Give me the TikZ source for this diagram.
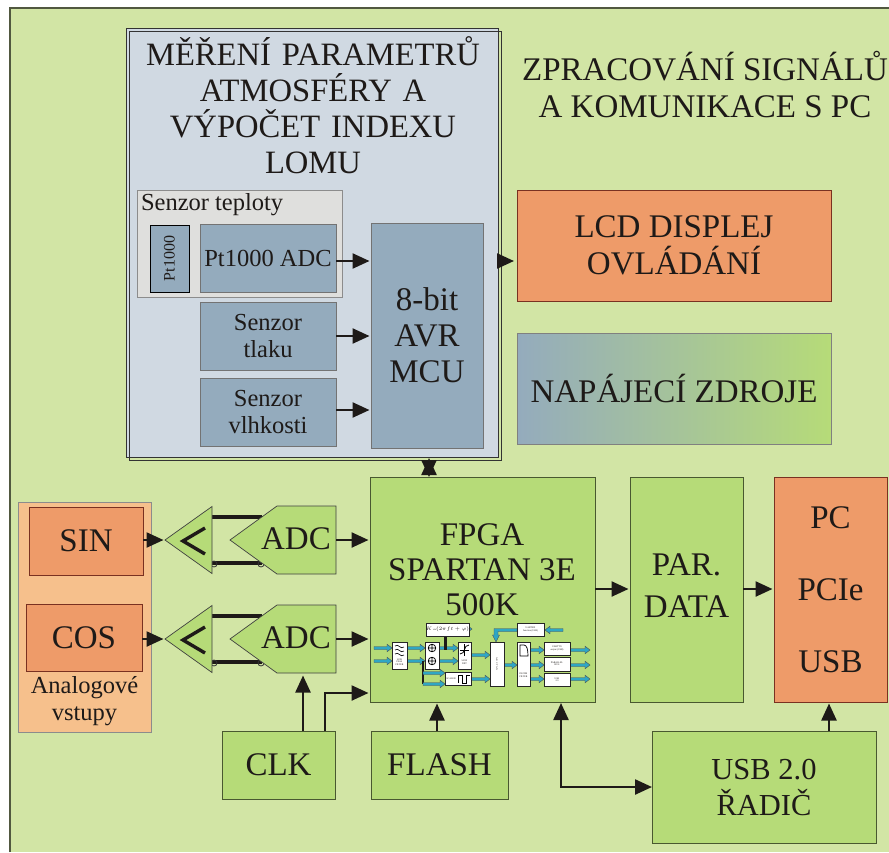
\documentclass[tikz,border=0pt]{standalone}
\usepackage{fontspec}
\setmainfont{Liberation Serif}
\usetikzlibrary{arrows.meta,calc}
\definecolor{bgG}{HTML}{D2E5A5}
\definecolor{blkG}{HTML}{B6DB78}
\definecolor{blkB}{HTML}{94ABBD}
\definecolor{panel}{HTML}{D0D9E2}
\definecolor{grayP}{HTML}{DFDFDD}
\definecolor{orng}{HTML}{EE9B69}
\definecolor{peach}{HTML}{F6C08C}
\definecolor{ink}{HTML}{1E1A18}
\definecolor{teal}{HTML}{2FA6C4}
\newcommand{\fs}[1]{\fontsize{#1}{#1}\selectfont}
\tikzset{
 x=1pt,y=-1pt,
 plain/.style={inner sep=0,outer sep=0,text=ink,align=center,anchor=north west},
 blk/.style={plain,draw=#1,line width=.7pt},
 grn/.style={blk=black!60!blkG,fill=blkG},
 blu/.style={blk=black!55,fill=blkB},
 org/.style={blk=black!25!orng!70!red!60!black,fill=orng},
 conn/.style={draw=ink,line width=2.4pt,shorten >=1.5pt,-{Triangle[length=17pt,width=15pt]}},
 dconn/.style={draw=ink,line width=2.4pt,{Triangle[length=17pt,width=15pt]}-{Triangle[length=17pt,width=15pt]}},
 thick line/.style={draw=ink,line width=3.4pt},
 mini/.style={plain,draw=black!85,fill=white,line width=.8pt,font=\fs{2.4}},
 tiny/.style={plain,anchor=center,font=\fs{2.4}},
}
% teal block arrow from #1 to #2 at height #3
\newcommand{\tA}[3]{\fill[teal,draw=black!70,line width=.4pt] (#1,#3-1.5) -- (#2-5,#3-1.5) -- (#2-5,#3-3.8) -- (#2,#3) -- (#2-5,#3+3.8) -- (#2-5,#3+1.5) -- (#1,#3+1.5) -- cycle;}
\begin{document}
\begin{tikzpicture}
\useasboundingbox (0,0) rectangle (889,852);
\fill[white] (0,0) rectangle (889,852);
\path[fill=bgG] (10,8) rectangle (889,852);
\draw[black!45!bgG!70!black,line width=1.2pt] (10,852) -- (10,8) -- (889,8);
% panel
\path[fill=panel,draw=black!80,line width=.7pt] (126,28) rectangle (498,457);
\draw[black!80,line width=.7pt] (129,31) rectangle (501,460);
\node[plain,anchor=center,font=\fs{32.6},text width=372] (ptitle) at (313,105) {MĚŘENÍ PARAMETRŮ\\[3.4pt]ATMOSFÉRY A\\[3.4pt]VÝPOČET INDEXU\\[3.4pt]LOMU};
\node[plain,anchor=center,font=\fs{33}] (ttitle) at (705,85) {ZPRACOVÁNÍ SIGNÁLŮ\\[4pt]A KOMUNIKACE S PC};
% temperature
\node[blk=black!45,fill=grayP,minimum width=205,minimum height=107] (tbox) at (137,190) {};
\node[plain,font=\fs{24.5}] (tlab) at (141,193) {Senzor teploty};
\node[blk=black,fill=blkB,minimum width=39,minimum height=67] (pt) at (150,225) {};
\node[plain,anchor=center,rotate=90,font=\fs{16}] (ptl) at (169.5,258.5) {Pt1000};
\node[blu,minimum width=136,minimum height=68,font=\fs{24.5}] (adc) at (200,224) {Pt1000 ADC};
\node[blu,minimum width=136,minimum height=68,font=\fs{24.5}] (tlak) at (200,302) {Senzor\\[2.5pt]tlaku};
\node[blu,minimum width=136,minimum height=68,font=\fs{24.5}] (vlh) at (200,378) {Senzor\\[2.5pt]vlhkosti};
\node[blu,minimum width=112,minimum height=225,font=\fs{33}] (mcu) at (371,223) {8-bit\\[3pt]AVR\\[3pt]MCU};
% right
\node[org,minimum width=314,minimum height=111,font=\fs{33}] (lcd) at (517,190) {LCD DISPLEJ\\[4pt]OVLÁDÁNÍ};
\node[plain,draw=black!50,line width=.7pt,left color=blkB,right color=blkG,minimum width=314,minimum height=111,font=\fs{33}] (nap) at (517,333) {NAPÁJECÍ ZDROJE};
\node[grn,minimum width=225,minimum height=225] (fpga) at (370,477) {};
\node[plain,anchor=center,font=\fs{33}] (fpgal) at (482,570) {FPGA\\[2pt]SPARTAN 3E\\[2pt]500K};
\node[grn,minimum width=113,minimum height=225] (par) at (630,477) {};
\node[plain,anchor=center,font=\fs{33}] (parl) at (686.5,586) {PAR.\\[9pt]DATA};
\node[org,minimum width=113,minimum height=225,font=\fs{33}] (pc) at (774,477) {PC\\[39pt]PCIe\\[39pt]USB};
\node[grn,minimum width=224,minimum height=112,font=\fs{30.5}] (usb) at (652,731) {USB 2.0\\[5.5pt]ŘADIČ};
\node[grn,minimum width=137,minimum height=68,font=\fs{33}] (flash) at (371,731) {FLASH};
\node[grn,minimum width=113,minimum height=68,font=\fs{33}] (clk) at (222,731) {CLK};
% analog
\node[blk=black!45,fill=peach,minimum width=133,minimum height=230] (ana) at (18,502) {};
\node[org,minimum width=114,minimum height=68,font=\fs{33}] (sin) at (29,507) {SIN};
\node[org,minimum width=116,minimum height=67,font=\fs{33}] (cos) at (26,604) {COS};
\node[plain,anchor=center,font=\fs{24.5}] (anal) at (84.5,701) {Analogové\\[2pt]vstupy};
% ADC + amplifiers
\foreach \n/\yy in {1/540,2/639}{
 \draw[thick line] (212,\yy-23) -- (262,\yy-23);
 \draw[thick line] (212,\yy+23) -- (262,\yy+23);
 \draw[black!80,line width=.8pt] (214,\yy+24) circle (3) (261,\yy+24) circle (3);
 \path[fill=blkG,draw=black!75,line width=.7pt] (165,\yy) -- (212,\yy-33.5) -- (212,\yy+33.5) -- cycle;
 \coordinate (ampin\n) at (165,\yy);
 \coordinate (adcout\n) at (336,\yy);
 \draw[ink,line width=3.4pt,miter limit=10] (205,\yy-12) -- (183,\yy+1) -- (205,\yy+14);
 \path[fill=blkG,draw=black!75,line width=.7pt] (230,\yy) -- (277,\yy-34) -- (336,\yy-34) -- (336,\yy+34) -- (277,\yy+34) -- cycle;
 \node[plain,anchor=center,font=\fs{33}] (adcl\n) at (296,\yy-1) {ADC};
}
% connectors
\foreach \a/\yy in {adc/261,tlak/336,vlh/410}{\draw[conn] (\a.east |- 0,\yy) -- (mcu.west |- 0,\yy);}
\coordinate (lcds) at (498,261);
\draw[conn,shorten >=3pt] (lcds) -- (lcd.west |- lcds);
\coordinate (mcub) at (429,458);
\draw[dconn] (fpga.north -| mcub) -- (mcub);
\draw[conn] (sin.east |- ampin1) -- (ampin1);
\draw[conn] (cos.east |- ampin2) -- (ampin2);
\draw[conn] (adcout1) -- (fpga.west |- adcout1);
\draw[conn] (adcout2) -- (fpga.west |- adcout2);
\coordinate (clka) at (303,731);
\coordinate (clkb) at (325,731);
\draw[conn] (clka) -- (303,674);
\draw[conn] (clkb) -- (325,693) -- (fpga.west |- 0,693);
\coordinate (flt) at (437,731);
\draw[conn] (flt) -- (fpga.south -| flt);
\coordinate (fu) at (561,703);
\draw[dconn] (fu) -- (561,787) -- (usb.west |- 0,787);
\coordinate (upc) at (829,731);
\draw[conn] (upc) -- (pc.south -| upc);
\draw[conn] (fpga.east |- 0,589) -- (par.west |- 0,589);
\draw[conn] (par.east |- 0,589) -- (pc.west |- 0,589);
% mini diagram inside FPGA
\tA{374}{392}{648}\tA{374}{392}{661}
\tA{407}{425}{648}\tA{407}{425}{661}
\draw[ink,line width=1.8pt] (423,661) -- (423,684);
\tA{423}{445}{673}\tA{423}{445}{684}
\tA{439}{458}{648}\tA{439}{458}{661}
\draw[ink,line width=3pt] (445,636) -- (445,650);
\tA{454}{472}{629}
\tA{471}{490}{655}\tA{471}{490}{679}
\tA{504}{517}{665}
\tA{530}{544}{650}\tA{530}{544}{665}\tA{530}{544}{679}
\tA{570}{590}{650}\tA{570}{590}{665}\tA{570}{590}{679}
\fill[teal,draw=black!70,line width=.4pt] (517,628.5) -- (494,628.5) -- (494,635) -- (492.5,635) -- (496,642) -- (499.5,635) -- (498,635) -- (498,631.5) -- (517,631.5) -- cycle;
\fill[teal,draw=black!70,line width=.4pt] (563,628.5) -- (550,628.5) -- (550,626.2) -- (545,630) -- (550,633.8) -- (550,631.5) -- (563,631.5) -- cycle;
\node[mini,minimum width=15,minimum height=27] (m1) at (392,642) {};
\node[tiny] (m1l) at (399.5,662) {LOW\\PASS\\FILTER};
\node[mini,minimum width=14,minimum height=27] (m2) at (425,642) {};
\draw[black,line width=.7pt] (432,648) circle (3.8) (432,661) circle (3.8) (428.2,648) -- (435.8,648) (432,644.2) -- (432,651.8) (428.2,661) -- (435.8,661) (432,657.2) -- (432,664.8);
\draw[black,line width=.6pt] (395,646) .. controls (399,643) and (400,650) .. (404,647) (395,650) .. controls (399,647) and (400,654) .. (404,651) (395,654) .. controls (399,651) and (400,658) .. (404,655);
\node[mini,minimum width=13,minimum height=27] (m3) at (458,642) {};
\draw[black,line width=.8pt] (460,654) .. controls (466,654) and (463,645) .. (469,645);
\draw[black,line width=.3pt] (460,650) -- (469,650) (464.5,644) -- (464.5,656);
\node[tiny] (m3l) at (464.5,662) {SIGN\\DET};
\node[mini,minimum width=14,minimum height=44] (m4) at (490,642) {};
\node[tiny,rotate=-90] (m4l) at (497,664) {A R C T A N};
\node[mini,minimum width=13,minimum height=44] (m5) at (517,642) {};
\draw[black,line width=.7pt] (520,656) -- (520,645) -- (524,645) .. controls (527,645) and (528,650) .. (528,656) -- cycle;
\node[tiny] (m5l) at (523.5,675) {DECIM\\FILTER};
\node[mini,minimum width=28,minimum height=13] (m6) at (426,623) {$K\sin(2\pi f t+\varphi)$};
\node[mini,minimum width=27,minimum height=13] (m7) at (517,623) {UARTRX\\function (USB)};
\node[mini,minimum width=26,minimum height=13] (m8) at (544,642) {UARTTX\\output (USB)};
\node[mini,minimum width=26,minimum height=14] (m9) at (544,657) {PARALLEL\\BUS};
\node[mini,minimum width=26,minimum height=13] (m10) at (544,673) {USB\\2.0};
\node[mini,minimum width=26,minimum height=13] (m11) at (445,672) {};
\node[tiny] (m11l) at (451,678.5) {SCALER};
\draw[black,line width=1pt] (458,683) -- (458,675) -- (462,675) -- (462,683) -- (466,683) -- (466,675) -- (470,675);
\end{tikzpicture}
\end{document}
